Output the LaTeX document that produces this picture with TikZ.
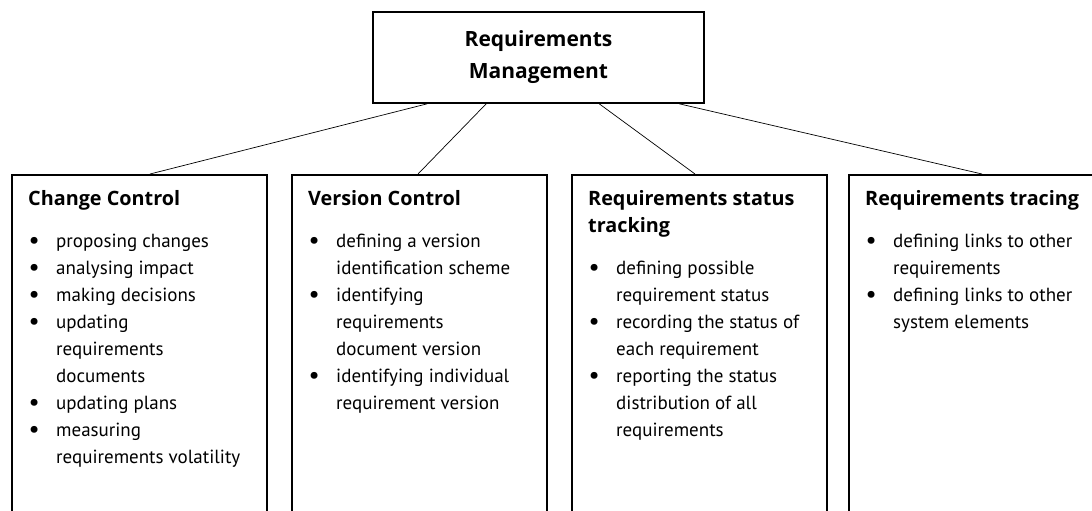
\documentclass[tikz,border=0pt]{standalone}
\usepackage{fontspec}
\setmainfont{PT Sans}
\newfontfamily\headfont{Open Sans}
\usetikzlibrary{positioning}

\newcommand{\bitem}{\makebox[28pt][l]{\hspace{0.5pt}\raisebox{-1pt}{\scalebox{1.3}{\textbullet}}}}
\newcommand{\bcont}{\hspace*{28pt}}
\newcommand{\boxhead}[1]{{\headfont\bfseries\fontsize{19.8}{27}\selectfont #1}}

\begin{document}
\begin{tikzpicture}[x=1pt, y=-1pt,
    topbox/.style={draw, line width=1.6pt, minimum width=331pt, minimum height=91pt, align=center, font=\headfont\bfseries\fontsize{21}{32}\selectfont},
    box/.style={draw, line width=1.6pt, inner sep=0pt, minimum width=255pt, minimum height=360pt, anchor=north west},
    txt/.style={anchor=north west, inner sep=0pt, align=left, font=\fontsize{19}{27}\selectfont},
    link/.style={line width=0.7pt}]
    \useasboundingbox (0,0) rectangle (1092,511);
    \clip (0,0) rectangle (1092,511);

    % Define boxes
    \node[topbox] (rm) at (538.5,57.5) {Requirements\\Management};
    \node[box] (cc) at (11,174) {};
    \node[box] (vc) at (291,174) {};
    \node[box] (rst) at (571,174) {};
    \node[box] (rt) at (848,174) {};

    % Box contents
    \node[txt] (cc-txt) at ([xshift=17pt, yshift=-12pt]cc.north west) {\strut\boxhead{Change Control}\\[15pt]
        \bitem proposing changes\\
        \bitem analysing impact\\
        \bitem making decisions\\
        \bitem updating\\
        \bcont requirements\\
        \bcont documents\\
        \bitem updating plans\\
        \bitem measuring\\
        \bcont requirements volatility};
    \node[txt] (vc-txt) at ([xshift=17pt, yshift=-12pt]vc.north west) {\strut\boxhead{Version Control}\\[15pt]
        \bitem defining a version\\
        \bcont identification scheme\\
        \bitem identifying\\
        \bcont requirements\\
        \bcont document version\\
        \bitem identifying individual\\
        \bcont requirement version};
    \node[txt] (rst-txt) at ([xshift=17pt, yshift=-12pt]rst.north west) {\strut\boxhead{Requirements status}\\
        \boxhead{tracking}\\[15pt]
        \bitem defining possible\\
        \bcont requirement status\\
        \bitem recording the status of\\
        \bcont each requirement\\
        \bitem reporting the status\\
        \bcont distribution of all\\
        \bcont requirements};
    \node[txt] (rt-txt) at ([xshift=17pt, yshift=-12pt]rt.north west) {\strut\boxhead{Requirements tracing}\\[15pt]
        \bitem defining links to other\\
        \bcont requirements\\
        \bitem defining links to other\\
        \bcont system elements};

    % Draw links
    \draw[link] ([xshift=55pt]rm.south west) -- ([xshift=139pt]cc.north west);
    \draw[link] ([xshift=114pt]rm.south west) -- ([xshift=127pt]vc.north west);
    \draw[link] ([xshift=227pt]rm.south west) -- ([xshift=124pt]rst.north west);
    \draw[link] ([xshift=307pt]rm.south west) -- ([xshift=134pt]rt.north west);
\end{tikzpicture}
\end{document}
